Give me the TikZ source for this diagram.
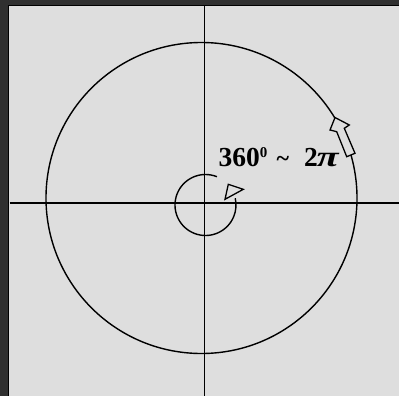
\documentclass[tikz,border=0pt]{standalone}
\usepackage{fontspec}
\setmainfont{Liberation Serif}
\definecolor{darkbg}{HTML}{303030}
\definecolor{panel}{HTML}{DEDEDE}
\begin{document}
\begin{tikzpicture}[x=1pt,y=-1pt,
  ln/.style={black,line width=1.4pt},
  hollow/.style={draw=black,line width=1.3pt,fill=panel,line join=miter},
  lbl/.style={anchor=base west,inner sep=0pt,font=\bfseries\fontsize{27.5}{30}\selectfont}]
\useasboundingbox (0,0) rectangle (399,396);
\fill[darkbg] (0,0) rectangle (399,396);
\fill[panel] (8.5,5.5) rectangle (399,396);
\draw[black,line width=1.6pt] (8.5,396) -- (8.5,5.5) -- (399,5.5);
% axes
\coordinate (xl) at (9.5,203);
\coordinate (xr) at (399,203);
\coordinate (yt) at (204.5,6.5);
\coordinate (yb) at (204.5,396);
\draw[ln] (xl) -- (xr);
\draw[ln] (yt) -- (yb);
% big circle
\coordinate (bc) at (201.5,198);
\draw[ln] (bc) circle[radius=155.5];
% block arrow on circle
\draw[hollow] (335,117.5) -- (349.3,125) -- (344.3,128.3) -- (355,153.3) -- (346.7,156.7) -- (336.7,131.7) -- (330,130) -- cycle;
% small arc
\coordinate (sc) at (205.5,205);
\draw[ln] (sc) ++(-68:30.5) arc[start angle=-68, end angle=-372.8, radius=30.5];
% small triangle head
\draw[hollow] (225,199.3) -- (228.3,184.3) -- (243.3,189.3) -- cycle;
% label
\node[lbl] (deg) at (218.5,166.7) {360\raisebox{9.3pt}{\fontsize{15}{15}\selectfont 0}};
\node[lbl,font=\bfseries\fontsize{24}{24}\selectfont] (tilde) at (276.5,166.2) {\char`\~};
\node[lbl] (rad) at (304,166.7) {2\hspace{-1pt}\scalebox{1.45}[1.05]{\textit{π}}};
\end{tikzpicture}
\end{document}
